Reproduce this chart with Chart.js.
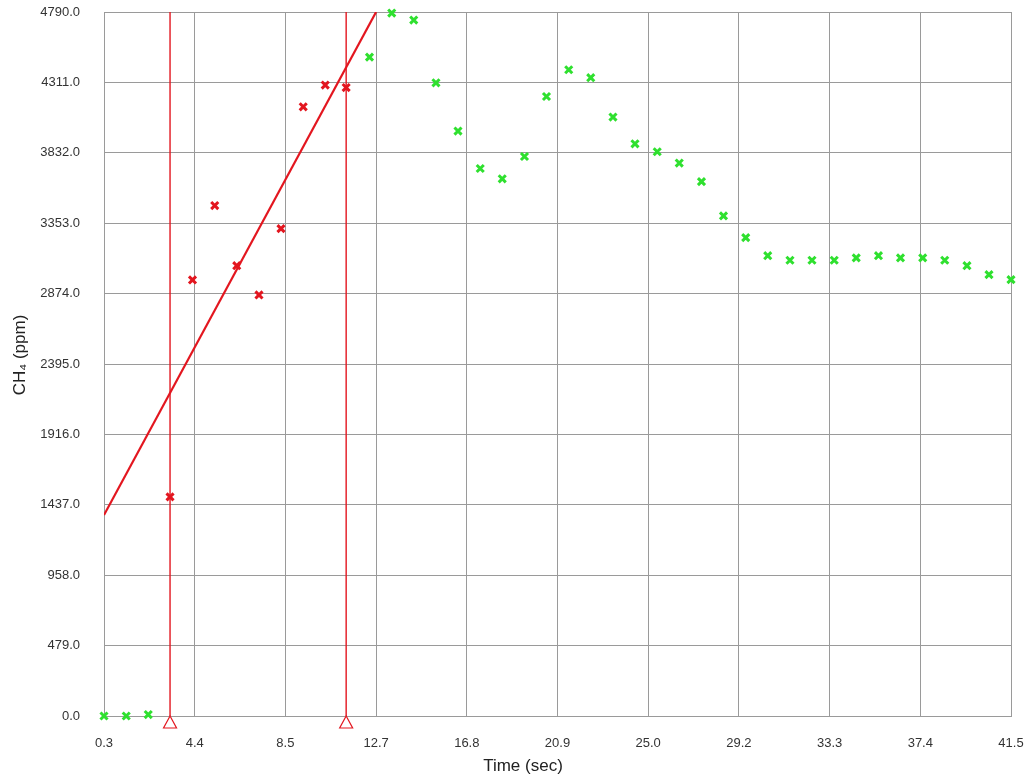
<!DOCTYPE html>
<html>
<head>
<meta charset="utf-8">
<script src="https://cdn.jsdelivr.net/npm/chart.js@4/dist/chart.umd.min.js"></script>
<style>
  html, body { margin: 0; padding: 0; background: #fff; }
  #wrap { width: 1029px; height: 778px; }
</style>
</head>
<body>
<div id="wrap"><canvas id="ch4Chart" width="1029" height="778"></canvas></div>
<script>
// Measured samples (time in sec, CH4 in ppm)
const times = [0.3, 1.31, 2.31, 3.3, 4.32, 5.33, 6.33, 7.34, 8.34, 9.35, 10.35, 11.3,
  12.36, 13.37, 14.37, 15.38, 16.38, 17.39, 18.39, 19.4, 20.4, 21.41, 22.41, 23.42,
  24.42, 25.43, 26.43, 27.44, 28.44, 29.45, 30.45, 31.46, 32.46, 33.47, 34.47, 35.48,
  36.48, 37.49, 38.49, 39.5, 40.5, 41.5];
const ppm = [0, 0, 10, 1491, 2967, 3473, 3064, 2865, 3316, 4145, 4293, 4276,
  4483, 4783, 4735, 4308, 3980, 3725, 3655, 3807, 4215, 4397, 4343, 4075,
  3893, 3839, 3762, 3636, 3403, 3255, 3132, 3101, 3101, 3101, 3117, 3132,
  3117, 3117, 3101, 3064, 3003, 2969];

// Selected fit window and fitted line
const windowTimes = [3.3, 11.3];
const fitX = [0.3, 12.66];
const fitY = [1367, 4790];

// Axis ticks
const xTickValues = [0.3, 4.42, 8.54, 12.66, 16.78, 20.9, 25.02, 29.14, 33.26, 37.38, 41.5];
const xTickLabels = ['0.3', '4.4', '8.5', '12.7', '16.8', '20.9', '25.0', '29.2', '33.3', '37.4', '41.5'];
const yTickValues = [0, 479, 958, 1437, 1916, 2395, 2874, 3353, 3832, 4311, 4790];
const yTickLabels = ['0.0', '479.0', '958.0', '1437.0', '1916.0', '2395.0', '2874.0', '3353.0', '3832.0', '4311.0', '4790.0'];

const RED = '#e3161f';
const GREEN = '#2fe02f';
const GRID = '#9a9a9a';

document.addEventListener('DOMContentLoaded', function() {
    const points = times.map((t, i) => ({ x: t, y: ppm[i] }));
    const inWindow = t => t >= windowTimes[0] - 0.05 && t <= windowTimes[1] + 0.05;

    const datasets = [{
        label: 'CH4',
        data: points,
        showLine: false,
        pointStyle: 'crossRot',
        pointRadius: 5,
        pointBorderWidth: 3,
        pointBorderColor: ctx => inWindow(ctx.raw.x) ? RED : GREEN,
        clip: false
    }, {
        label: 'fit',
        data: fitX.map((x, i) => ({ x: x, y: fitY[i] })),
        showLine: true,
        borderColor: RED,
        borderWidth: 2.2,
        pointRadius: 0
    }];

    // window lines + hollow triangles at their foot
    const windowPlugin = {
        id: 'windowMarks',
        afterDatasetsDraw(chart) {
            const c = chart.ctx;
            const xs = chart.scales.x;
            const area = chart.chartArea;
            c.save();
            c.strokeStyle = RED;
            c.fillStyle = '#fff';
            windowTimes.forEach(t => {
                const px = xs.getPixelForValue(t);
                c.lineWidth = 1.4;
                c.beginPath();
                c.moveTo(px, area.top);
                c.lineTo(px, area.bottom);
                c.stroke();
                c.lineWidth = 1.2;
                c.beginPath();
                c.moveTo(px, area.bottom);
                c.lineTo(px + 6.5, area.bottom + 12);
                c.lineTo(px - 6.5, area.bottom + 12);
                c.closePath();
                c.fill();
                c.stroke();
            });
            c.restore();
        }
    };

    // axis titles (placed like the original, slightly off the plot centre)
    const titlePlugin = {
        id: 'axisTitles',
        afterDraw(chart) {
            const c = chart.ctx;
            c.save();
            c.fillStyle = '#222';
            c.font = '17px "Liberation Sans", Arial, sans-serif';
            c.textAlign = 'center';
            c.textBaseline = 'middle';
            c.fillText('Time (sec)', 523, 766);
            c.translate(20, 355);
            c.rotate(-Math.PI / 2);
            c.fillText('CH\u2084 (ppm)', 0, 0);
            c.restore();
        }
    };

    const tickFont = { family: 'Liberation Sans, Arial, sans-serif', size: 13 };

    new Chart(document.getElementById('ch4Chart').getContext('2d'), {
        type: 'scatter',
        data: { datasets: datasets },
        plugins: [windowPlugin, titlePlugin],
        options: {
            responsive: false,
            animation: false,
            layout: { padding: { top: 12, right: 18, left: 0, bottom: 0 } },
            plugins: { legend: { display: false }, tooltip: { enabled: false } },
            scales: {
                x: {
                    type: 'linear',
                    min: xTickValues[0],
                    max: xTickValues[xTickValues.length - 1],
                    afterBuildTicks: s => { s.ticks = xTickValues.map(v => ({ value: v })); },
                    afterFit: s => { s.height = 62; s.paddingLeft = 0; s.paddingRight = 0; },
                    grid: { color: GRID, drawTicks: false, lineWidth: 1 },
                    border: { color: GRID },
                    ticks: {
                        color: '#333',
                        font: tickFont,
                        padding: 20,
                        maxRotation: 0,
                        autoSkip: false,
                        callback: (v, i) => xTickLabels[i]
                    }
                },
                y: {
                    min: yTickValues[0],
                    max: yTickValues[yTickValues.length - 1],
                    afterBuildTicks: s => { s.ticks = yTickValues.map(v => ({ value: v })); },
                    afterFit: s => { s.width = 104; s.paddingTop = 0; s.paddingBottom = 0; },
                    grid: { color: GRID, drawTicks: false, lineWidth: 1 },
                    border: { color: GRID },
                    ticks: {
                        color: '#333',
                        font: tickFont,
                        padding: 24,
                        autoSkip: false,
                        callback: (v, i) => yTickLabels[i]
                    }
                }
            }
        }
    });
});
</script>
</body>
</html>
